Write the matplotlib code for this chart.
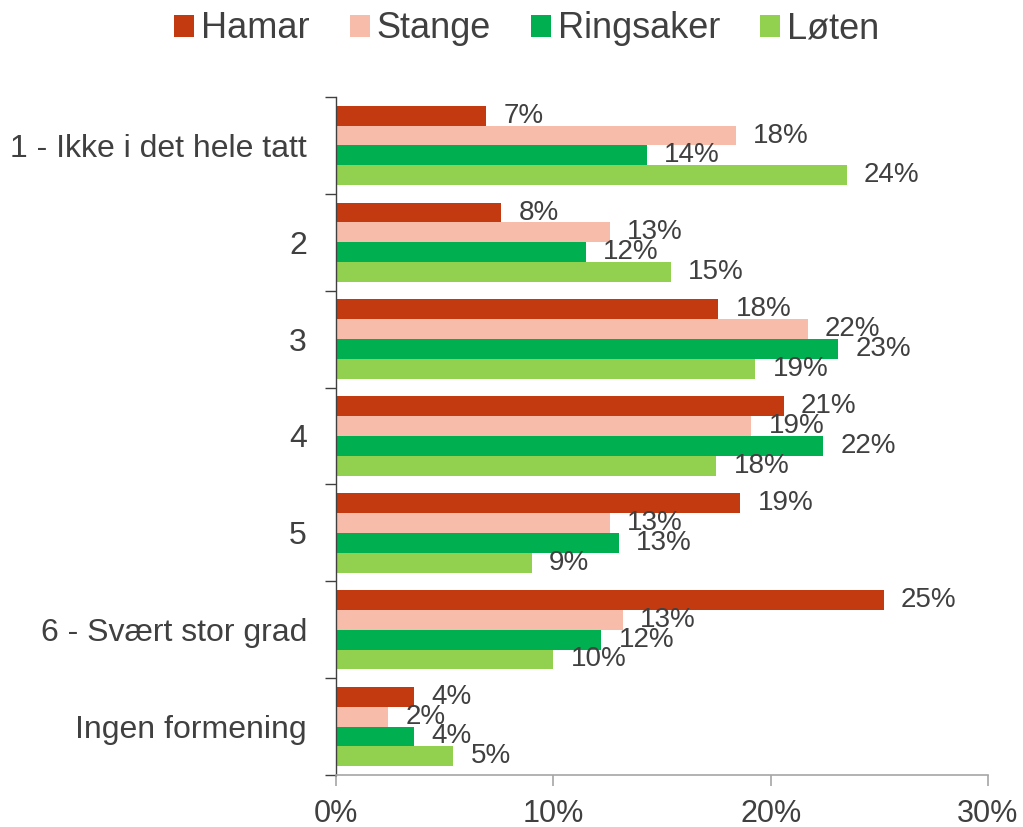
import matplotlib.pyplot as plt
import numpy as np

plt.rcParams["font.family"] = ["Liberation Sans", "DejaVu Sans"]

categories = [
    "1 - Ikke i det hele tatt",
    "2",
    "3",
    "4",
    "5",
    "6 - Svært stor grad",
    "Ingen formening",
]
series_names = ["Hamar", "Stange", "Ringsaker", "Løten"]
hamar = [6.9, 7.6, 17.6, 20.6, 18.6, 25.2, 3.6]
stange = [18.4, 12.6, 21.7, 19.1, 12.6, 13.2, 2.4]
ringsaker = [14.3, 11.5, 23.1, 22.4, 13.0, 12.2, 3.6]
loten = [23.5, 15.4, 19.3, 17.5, 9.0, 10.0, 5.4]
shown_labels = [
    [7, 8, 18, 21, 19, 25, 4],
    [18, 13, 22, 19, 13, 13, 2],
    [14, 12, 23, 22, 13, 12, 4],
    [24, 15, 19, 18, 9, 10, 5],
]
colors = ["#C33A10", "#F8BCAA", "#00B050", "#92D050"]

text_color = "#404040"

fig = plt.figure(figsize=(10.23, 8.27), dpi=100)
ax = fig.add_axes([0.3285, 0.0629, 0.6372, 0.8198])

y = np.arange(len(categories))
h = 0.205
offsets = np.array([-1.5, -0.5, 0.5, 1.5]) * h
for k, vals in enumerate([hamar, stange, ringsaker, loten]):
    bars = ax.barh(y + offsets[k], vals, height=h, color=colors[k],
                   label=series_names[k], edgecolor="none")
    for b, lab in zip(bars, shown_labels[k]):
        ax.annotate(f"{lab}%", (b.get_width(), b.get_y() + b.get_height() / 2),
                    xytext=(12.5, 0), textcoords="offset points",
                    ha="left", va="center", fontsize=20, color=text_color)

ax.set_xlim(0, 30)
ax.set_ylim(len(categories) - 0.5, -0.5)
ax.set_xticks([0, 10, 20, 30])
ax.set_xticklabels(["0%", "10%", "20%", "30%"])

ax.set_yticks(np.arange(len(categories) + 1) - 0.5)
ax.set_yticklabels([])
ax.set_yticks(y, minor=True)
ax.set_yticklabels(categories, minor=True)
ax.tick_params(axis="y", which="minor", length=0, pad=21, labelsize=23,
               labelcolor=text_color)
ax.tick_params(axis="y", which="major", length=8, width=1, color="#404040")
ax.tick_params(axis="x", length=8, width=1.2, color="#A6A6A6", pad=9,
               labelsize=22, labelcolor=text_color)

ax.spines["top"].set_visible(False)
ax.spines["right"].set_visible(False)
ax.spines["left"].set_color("#404040")
ax.spines["left"].set_linewidth(1)
ax.spines["bottom"].set_color("#A6A6A6")
ax.spines["bottom"].set_linewidth(1.2)

leg = fig.legend(loc="center", bbox_to_anchor=(0.515, 1 - 29 / 827), ncol=4,
                 frameon=False, fontsize=26, handlelength=0.55, handleheight=0.55,
                 handletextpad=0.2, columnspacing=1.1, labelcolor=text_color)

fig.savefig("out.png", dpi=100)
